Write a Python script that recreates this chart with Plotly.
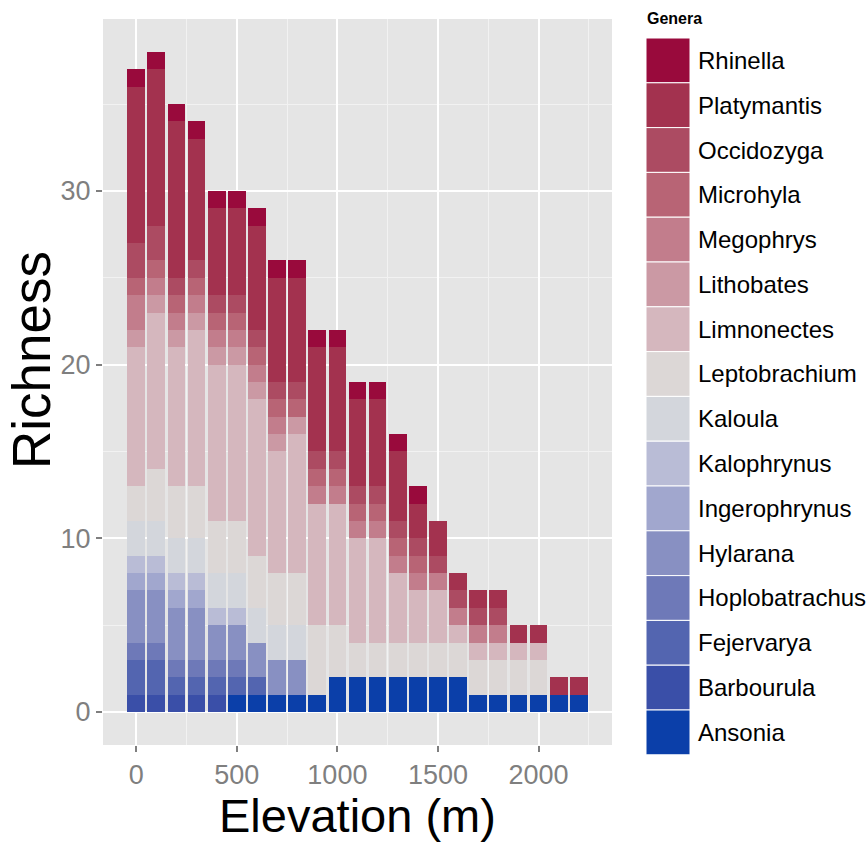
import plotly.graph_objects as go

# Elevation bands (m) and species richness per genus in each band
elevation = list(range(0, 2300, 100))

genera = ["Ansonia", "Barbourula", "Fejervarya", "Hoplobatrachus", "Hylarana",
          "Ingerophrynus", "Kalophrynus", "Kaloula", "Leptobrachium", "Limnonectes",
          "Lithobates", "Megophrys", "Microhyla", "Occidozyga", "Platymantis", "Rhinella"]

ansonia        = [0, 0, 0, 0, 0, 1, 1, 1, 1, 1, 2, 2, 2, 2, 2, 2, 2, 1, 1, 1, 1, 1, 1]
barbourula     = [1, 1, 1, 1, 1, 0, 0, 0, 0, 0, 0, 0, 0, 0, 0, 0, 0, 0, 0, 0, 0, 0, 0]
fejervarya     = [2, 2, 1, 1, 1, 1, 1, 0, 0, 0, 0, 0, 0, 0, 0, 0, 0, 0, 0, 0, 0, 0, 0]
hoplobatrachus = [1, 1, 1, 1, 1, 1, 0, 0, 0, 0, 0, 0, 0, 0, 0, 0, 0, 0, 0, 0, 0, 0, 0]
hylarana       = [3, 3, 3, 3, 2, 2, 2, 2, 2, 0, 0, 0, 0, 0, 0, 0, 0, 0, 0, 0, 0, 0, 0]
ingerophrynus  = [1, 1, 1, 1, 0, 0, 0, 0, 0, 0, 0, 0, 0, 0, 0, 0, 0, 0, 0, 0, 0, 0, 0]
kalophrynus    = [1, 1, 1, 1, 1, 1, 0, 0, 0, 0, 0, 0, 0, 0, 0, 0, 0, 0, 0, 0, 0, 0, 0]
kaloula        = [2, 2, 2, 2, 2, 2, 2, 2, 2, 0, 0, 0, 0, 0, 0, 0, 0, 0, 0, 0, 0, 0, 0]
leptobrachium  = [2, 3, 3, 3, 3, 3, 3, 3, 3, 4, 3, 2, 2, 2, 2, 2, 2, 2, 2, 2, 2, 0, 0]
limnonectes    = [8, 9, 8, 9, 9, 9, 9, 7, 8, 7, 7, 6, 6, 4, 3, 3, 1, 1, 1, 1, 1, 0, 0]
lithobates     = [1, 1, 1, 1, 1, 1, 1, 1, 1, 0, 0, 0, 0, 0, 0, 0, 0, 0, 0, 0, 0, 0, 0]
megophrys      = [2, 1, 1, 1, 1, 1, 1, 1, 0, 1, 1, 1, 1, 1, 1, 1, 1, 1, 1, 0, 0, 0, 0]
microhyla      = [1, 1, 1, 1, 1, 1, 1, 1, 1, 1, 1, 1, 1, 1, 1, 0, 0, 0, 0, 0, 0, 0, 0]
occidozyga     = [2, 2, 1, 1, 1, 1, 1, 1, 1, 1, 1, 1, 1, 1, 1, 1, 1, 1, 1, 0, 0, 0, 0]
platymantis    = [9, 9, 9, 7, 5, 5, 6, 6, 6, 6, 6, 5, 5, 4, 2, 2, 1, 1, 1, 1, 1, 1, 1]
rhinella       = [1, 1, 1, 1, 1, 1, 1, 1, 1, 1, 1, 1, 1, 1, 1, 0, 0, 0, 0, 0, 0, 0, 0]

richness = [ansonia, barbourula, fejervarya, hoplobatrachus, hylarana, ingerophrynus,
            kalophrynus, kaloula, leptobrachium, limnonectes, lithobates, megophrys,
            microhyla, occidozyga, platymantis, rhinella]

colors = ["#0B3FA9", "#3A4FA8", "#5365B0", "#6E79B8", "#8890C2", "#A1A7CE",
          "#B9BCD6", "#D3D6DC", "#DCD7D6", "#D5B7BE", "#CB99A4", "#C27D8C",
          "#B86475", "#AC4B62", "#A3324F", "#990A3C"]

FONT = "Liberation Sans, Arial, sans-serif"
W, H = 868, 845
L, R, T, B = 103, 612, 19, 745  # plot area in pixels

fig = go.Figure()
for name, vals, col in zip(genera, richness, colors):
    fig.add_trace(go.Bar(x=elevation, y=vals, name=name, marker_color=col,
                         marker_line_width=0, showlegend=False))


def px_x(px):
    return (px - L) / (R - L)


def px_y(py):
    return (B - py) / (B - T)


shapes = []
annotations = []

# Legend: title, colour keys and labels, top entry = top of the stack
annotations.append(dict(text="<b>Genera</b>", x=px_x(645), y=px_y(18), xref="paper",
                        yref="paper", xanchor="left", yanchor="middle", showarrow=False,
                        font=dict(family=FONT, size=16, color="black")))
key_top, key_h = 38.0, 44.8
for k, (name, col) in enumerate(zip(genera[::-1], colors[::-1])):
    y0 = key_top + k * key_h
    shapes.append(dict(type="rect", xref="paper", yref="paper",
                       x0=px_x(646), x1=px_x(690), y0=px_y(y0), y1=px_y(y0 + key_h),
                       fillcolor=col, line=dict(color="white", width=1)))
    annotations.append(dict(text=name, x=px_x(696), y=px_y(y0 + key_h / 2),
                            xref="paper", yref="paper", xanchor="left", yanchor="middle",
                            showarrow=False,
                            font=dict(family=FONT, size=24, color="black")))

# Axis titles
annotations.append(dict(text="Elevation (m)", x=0.5, y=px_y(815), xref="paper",
                        yref="paper", xanchor="center", yanchor="middle", showarrow=False,
                        font=dict(family=FONT, size=47, color="black")))
annotations.append(dict(text="Richness", x=px_x(31), y=px_y(360), xref="paper",
                        yref="paper", xanchor="center", yanchor="middle", textangle=-90,
                        showarrow=False,
                        font=dict(family=FONT, size=53, color="black")))

fig.update_layout(
    width=W, height=H,
    margin=dict(l=L, r=W - R, t=T, b=H - B),
    barmode="stack", bargap=0.12,
    paper_bgcolor="white", plot_bgcolor="#E5E5E5",
    shapes=shapes, annotations=annotations,
    showlegend=False,
    xaxis=dict(range=[-165, 2365], tickvals=[0, 500, 1000, 1500, 2000],
               showgrid=True, gridcolor="white", gridwidth=1.5, zeroline=False,
               ticks="outside", ticklen=6, tickwidth=1.5, tickcolor="#7F7F7F",
               tickfont=dict(family=FONT, size=27, color="#7F7F7F"),
               minor=dict(dtick=250, tick0=0, showgrid=True, gridcolor="#F2F2F2",
                          gridwidth=0.8),
               showline=False),
    yaxis=dict(range=[-1.9, 39.9], tickvals=[0, 10, 20, 30],
               showgrid=True, gridcolor="white", gridwidth=1.5, zeroline=False,
               ticks="outside", ticklen=6, tickwidth=1.5, tickcolor="#7F7F7F",
               tickfont=dict(family=FONT, size=27, color="#7F7F7F"),
               minor=dict(dtick=5, tick0=0, showgrid=True, gridcolor="#F2F2F2",
                          gridwidth=0.8),
               showline=False),
)

fig.write_html("out.html")
